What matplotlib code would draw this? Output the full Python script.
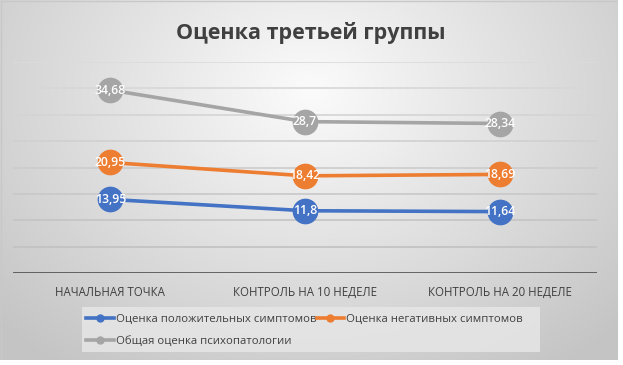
import numpy as np
import matplotlib.pyplot as plt
from matplotlib.lines import Line2D

categories = ['НАЧАЛЬНАЯ ТОЧКА', 'КОНТРОЛЬ НА 10 НЕДЕЛЕ', 'КОНТРОЛЬ НА 20 НЕДЕЛЕ']
positive = [13.95, 11.8, 11.64]
negative = [20.95, 18.42, 18.69]
general = [34.68, 28.7, 28.34]
series_names = ['Оценка положительных симптомов', 'Оценка негативных симптомов',
                'Общая оценка психопатологии']
colors = ['#4472C4', '#ED7D31', '#A5A5A5']

plt.rcParams['font.family'] = ['Open Sans', 'DejaVu Sans']

W, H = 623, 365
fig = plt.figure(figsize=(W / 100, H / 100), dpi=100)
fig.patch.set_facecolor('white')

# radial gradient background of the chart area
cw, ch = 618, 360
bg = fig.add_axes([0, 1 - ch / H, cw / W, ch / H], zorder=0)
yy, xx = np.mgrid[0:ch, 0:cw]
d = np.sqrt(((xx - 310) / 380.0) ** 2 + ((yy - 90) / 300.0) ** 2)
g = np.clip(0.985 - 0.19 * d, 0.77, 1)
bg.imshow(np.dstack([g, g, g]), aspect='auto', extent=[0, cw, ch, 0])
bg.set_xlim(0, cw)
bg.set_ylim(ch, 0)
bg.axis('off')
bg.add_patch(plt.Rectangle((0.5, 0.5), cw - 1, ch - 1, fill=False, ec='#c8c8c8', lw=1))
# legend background box
bg.add_patch(plt.Rectangle((82, 307), 540 - 82, 352 - 307, fc='#e6e6e6', ec='none', alpha=0.85))

# plot area
ax = fig.add_axes([13 / W, 1 - 273 / H, (597 - 13) / W, (273 - 62) / H], zorder=1)
ax.patch.set_alpha(0)
ax.set_xlim(-0.5, 2.5)
ax.set_ylim(0, 40)
for v in range(5, 45, 5):
    shade = 0.86 - 0.12 * (1 - v / 40)
    ax.axhline(v, color=(shade, shade, shade), lw=1.2, zorder=1)
ax.axhline(0, color='#404040', lw=1.8, zorder=2)
for s in ax.spines.values():
    s.set_visible(False)
ax.set_yticks([])
ax.set_xticks(range(len(categories)))
ax.set_xticklabels(categories, fontsize=8.3, color='#404040')
ax.tick_params(axis='x', length=0, pad=9)

x = np.arange(len(categories))
handles = []
for vals, c, name in zip([positive, negative, general], colors, series_names):
    ax.plot(x, vals, color=c, lw=2.6, zorder=3, solid_capstyle='round')
    ax.plot(x, vals, 'o', ms=17.5, color=c, mec=c, zorder=4)
    for xi, v in zip(x, vals):
        ax.text(xi, v, f'{v:g}'.replace('.', ','), ha='center', va='center',
                color='white', fontsize=8.8, fontweight='semibold', zorder=5)
    handles.append(Line2D([], [], color=c, lw=2.6, marker='o', ms=5, label=name))

fig.text(311 / W, 1 - 33 / H, 'Оценка третьей группы', ha='center', va='center',
         fontsize=15.5, fontweight='bold', color='#404040')

leg = fig.legend([handles[0], handles[2], handles[1]],
                 [series_names[0], series_names[2], series_names[1]],
                 ncol=2, loc='upper left', bbox_to_anchor=(83 / W, 1 - 311 / H),
                 frameon=False, fontsize=8.2, handlelength=2.4, handletextpad=0.2,
                 columnspacing=0.0, borderpad=0.3, labelspacing=0.95,
                 borderaxespad=0)
for t in leg.get_texts():
    t.set_color('#404040')

fig.savefig('out.png', dpi=100)
